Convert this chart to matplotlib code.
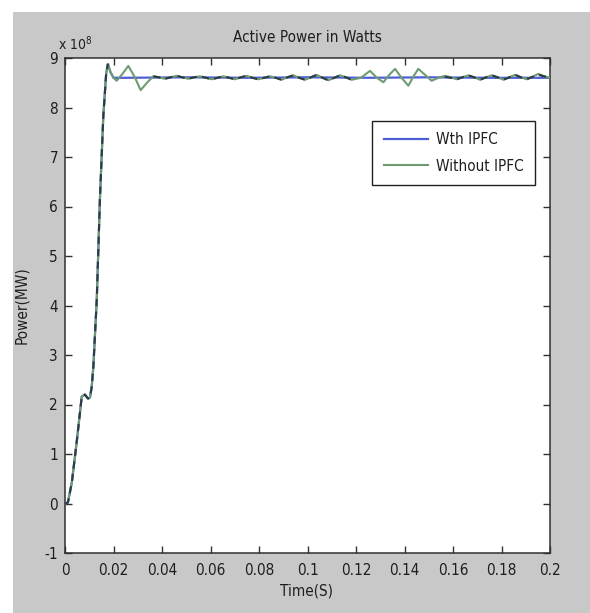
import numpy as np
import matplotlib
matplotlib.use("Agg")
import matplotlib.pyplot as plt
from matplotlib.patches import Rectangle

# ---------------- data (power in units of 1e8 W) ----------------
t_rise = [0.0, 0.0012, 0.0028, 0.0048, 0.0069, 0.0082, 0.0095, 0.0103, 0.0110,
          0.0117, 0.0131, 0.0144, 0.0158, 0.0170, 0.0177]
p_rise = [0.0, 0.02, 0.42, 1.23, 2.16, 2.20, 2.12, 2.14, 2.35,
          2.77, 4.12, 6.15, 7.83, 8.70, 8.88]

# With IPFC (after rise)
t_with = [0.0187, 0.0200, 0.0250, 0.0500, 0.0750, 0.1000, 0.1250, 0.1500, 0.1750, 0.2000]
p_with = [8.72, 8.60, 8.60, 8.61, 8.60, 8.61, 8.60, 8.61, 8.60, 8.60]

# Without IPFC (after rise)
t_without = [0.0187, 0.0200, 0.0213, 0.0237, 0.0261, 0.0287, 0.0312, 0.0338, 0.0364,
             0.0388, 0.0412, 0.0436, 0.0460, 0.0484, 0.0508, 0.0532, 0.0557, 0.0581,
             0.0605, 0.0629, 0.0653, 0.0677, 0.0701, 0.0725, 0.0749, 0.0773, 0.0797,
             0.0821, 0.0845, 0.0869, 0.0893, 0.0917, 0.0942, 0.0966, 0.0990, 0.1014,
             0.1038, 0.1062, 0.1086, 0.1110, 0.1134, 0.1158, 0.1182, 0.1220,
             0.1258, 0.1286, 0.1313, 0.1337, 0.1361, 0.1388, 0.1416, 0.1437, 0.1457,
             0.1485, 0.1512, 0.1540, 0.1567, 0.1591, 0.1615, 0.1639, 0.1663, 0.1687,
             0.1712, 0.1736, 0.1760, 0.1784, 0.1808, 0.1832, 0.1856, 0.1880, 0.1904,
             0.1928, 0.1952, 0.1976, 0.2000]
p_without = [8.72, 8.60, 8.54, 8.68, 8.84, 8.62, 8.35, 8.50, 8.63,
             8.61, 8.58, 8.61, 8.64, 8.61, 8.58, 8.61, 8.63, 8.60,
             8.57, 8.60, 8.63, 8.60, 8.57, 8.61, 8.64, 8.60, 8.57,
             8.60, 8.63, 8.60, 8.56, 8.61, 8.65, 8.60, 8.56, 8.61,
             8.66, 8.60, 8.55, 8.60, 8.65, 8.61, 8.56, 8.60,
             8.74, 8.60, 8.51, 8.66, 8.78, 8.60, 8.44, 8.63, 8.78,
             8.66, 8.54, 8.60, 8.64, 8.61, 8.57, 8.61, 8.65, 8.61,
             8.56, 8.61, 8.65, 8.61, 8.56, 8.61, 8.66, 8.61, 8.57,
             8.62, 8.68, 8.63, 8.60]

# dark dashed trace (steady part, gaps where it is hidden)
t_dash = [0.0182, 0.0364, 0.0388, 0.0412, 0.0436, 0.0460, 0.0484, 0.0508, 0.0532,
          0.0557, 0.0581, 0.0605, 0.0629, 0.0653, 0.0677, 0.0701, 0.0725, 0.0749,
          0.0773, 0.0797, 0.0821, 0.0845, 0.0869, 0.0893, 0.0917, 0.0942, 0.0966,
          0.0990, 0.1014, 0.1038, 0.1062, 0.1086, 0.1110, 0.1134, 0.1158, 0.1182,
          0.1200, 0.1560, 0.1567, 0.1591, 0.1615, 0.1639, 0.1663, 0.1687, 0.1712,
          0.1736, 0.1760, 0.1784, 0.1808, 0.1832, 0.1856, 0.1880, 0.1904, 0.1928,
          0.1952, 0.1976, 0.2000]
p_dash = [np.nan, 8.63, 8.61, 8.58, 8.61, 8.64, 8.61, 8.58, 8.61,
          8.63, 8.60, 8.57, 8.60, 8.63, 8.60, 8.57, 8.61, 8.64,
          8.60, 8.57, 8.60, 8.63, 8.60, 8.56, 8.61, 8.65, 8.60,
          8.56, 8.61, 8.66, 8.60, 8.55, 8.60, 8.65, 8.61, 8.56,
          np.nan, np.nan, 8.62, 8.60, 8.57, 8.61, 8.65, 8.61, 8.56,
          8.61, 8.65, 8.61, 8.56, 8.61, 8.66, 8.61, 8.57, 8.62,
          8.66, 8.63, 8.60]

x_ticks = [0, 0.02, 0.04, 0.06, 0.08, 0.1, 0.12, 0.14, 0.16, 0.18, 0.2]
x_labels = ["0", "0.02", "0.04", "0.06", "0.08", "0.1", "0.12", "0.14", "0.16", "0.18", "0.2"]
y_ticks = [-1, 0, 1, 2, 3, 4, 5, 6, 7, 8, 9]
legend_labels = ["Wth IPFC", "Without IPFC"]
title = "Active Power in Watts"
xlabel = "Time(S)"
ylabel = "Power(MW)"

# ---------------- style ----------------
plt.rcParams["font.family"] = ["DejaVu Sans"]
plt.rcParams["font.stretch"] = "condensed"

GRAY = "#c8c8c8"
BLUE = "#4d5fd6"
GREEN = "#6e9c70"
DARK = "#2c3a46"
TXT = "#1e1e1e"

W, H = 590, 613
fig = plt.figure(figsize=(W / 100, H / 100), dpi=100, facecolor=GRAY)
fig.patches.append(Rectangle((0, 1 - 12 / H), 1, 12 / H, transform=fig.transFigure,
                             facecolor="white", edgecolor="none", zorder=0))
fig.patches.append(Rectangle((0, 0), 13 / W, 1, transform=fig.transFigure,
                             facecolor="white", edgecolor="none", zorder=0))

L, R, T, B = 65, 550, 58, 553
ax = fig.add_axes([L / W, 1 - B / H, (R - L) / W, (B - T) / H])
ax.set_facecolor("white")

tb = t_rise + t_with
pb = p_rise + p_with
tg = t_rise + t_without
pg = p_rise + p_without
td = t_rise + t_dash
pdv = p_rise + p_dash

ax.plot(tb, pb, color=BLUE, lw=1.6, zorder=2, label=legend_labels[0])
ax.plot(tg, pg, color=GREEN, lw=1.5, zorder=3, label=legend_labels[1])
ax.plot(td, pdv, color=DARK, lw=1.5, ls=(0, (3.5, 2.5)), zorder=4)

ax.set_xlim(0, 0.2)
ax.set_ylim(-1, 9)
ax.set_xticks(x_ticks)
ax.set_xticklabels(x_labels)
ax.set_yticks(y_ticks)
ax.set_yticklabels([str(v) for v in y_ticks])
ax.tick_params(direction="in", length=5, width=1, top=True, right=True,
               labelsize=11, colors="#303030", labelcolor=TXT)
ax.tick_params(axis="x", pad=7)
ax.tick_params(axis="y", pad=5)
for s in ax.spines.values():
    s.set_color("#303030")
    s.set_linewidth(1.1)

fig.text(307 / W, 1 - 38 / H, title, ha="center", va="center", fontsize=11, color=TXT)
fig.text(58 / W, 1 - 44 / H, r"x 10$^{8}$", ha="left", va="center", fontsize=10, color=TXT)
fig.text(307 / W, 1 - 591 / H, xlabel, ha="center", va="center", fontsize=11, color=TXT)
fig.text(22 / W, 1 - 305 / H, ylabel, ha="center", va="center", rotation=90,
         fontsize=11, color=TXT)

leg = ax.legend(loc="upper right", bbox_to_anchor=(0.969, 0.873), fontsize=11,
                frameon=True, fancybox=False, framealpha=1, edgecolor="#202020",
                handlelength=2.9, handletextpad=0.5, borderpad=0.75, labelspacing=0.75,
                borderaxespad=0)
leg.get_frame().set_linewidth(1.0)
for txt in leg.get_texts():
    txt.set_color(TXT)

fig.savefig("out.png", dpi=100, facecolor=GRAY)
